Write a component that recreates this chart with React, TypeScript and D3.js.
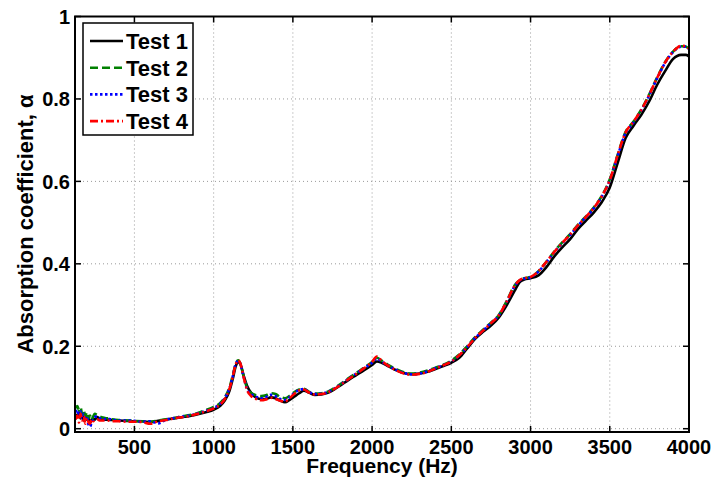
import React from "react";
import * as d3 from "d3";

const freqs = [128,140,150,160,170,180,190,200,210,220,230,240,250,265,280,300,330,360,400,450,500,550,600,650,700,750,800,850,900,950,1000,1040,1070,1100,1120,1140,1155,1170,1190,1210,1240,1270,1300,1330,1360,1390,1420,1450,1480,1510,1540,1570,1600,1640,1680,1720,1760,1800,1850,1900,1950,2000,2030,2060,2100,2150,2200,2250,2300,2350,2400,2450,2500,2550,2600,2650,2700,2750,2800,2850,2900,2930,2960,3000,3050,3100,3150,3200,3250,3300,3350,3400,3450,3500,3550,3600,3650,3700,3750,3800,3850,3900,3950,3980,4000];

const test1 = [0.035,0.030,0.040,0.025,0.035,0.020,0.030,0.022,0.028,0.015,
0.020,0.025,0.022,0.028,0.024,0.022,0.022,0.021,0.020,0.019,
0.018,0.018,0.016,0.019,0.022,0.025,0.028,0.031,0.035,0.040,
0.046,0.055,0.068,0.092,0.120,0.152,0.162,0.155,0.128,0.105,
0.085,0.075,0.072,0.072,0.076,0.074,0.068,0.064,0.070,0.078,
0.086,0.092,0.088,0.082,0.083,0.087,0.095,0.105,0.118,0.130,
0.142,0.155,0.163,0.160,0.152,0.142,0.135,0.132,0.134,0.138,
0.145,0.152,0.160,0.172,0.195,0.218,0.235,0.250,0.270,0.300,
0.335,0.355,0.362,0.365,0.372,0.392,0.418,0.440,0.460,0.485,
0.505,0.525,0.550,0.585,0.645,0.705,0.735,0.762,0.795,0.835,
0.868,0.897,0.907,0.907,0.903];

const test2 = [0.050,0.055,0.045,0.052,0.035,0.045,0.030,0.040,0.025,0.032,
0.022,0.030,0.036,0.033,0.030,0.027,0.025,0.023,0.021,0.020,
0.019,0.018,0.017,0.020,0.023,0.026,0.030,0.033,0.038,0.045,
0.053,0.062,0.076,0.100,0.128,0.158,0.166,0.157,0.126,0.100,
0.086,0.081,0.079,0.081,0.086,0.084,0.077,0.074,0.080,0.089,
0.095,0.097,0.090,0.085,0.086,0.090,0.098,0.108,0.122,0.135,
0.148,0.162,0.172,0.165,0.155,0.145,0.137,0.134,0.136,0.141,
0.148,0.155,0.165,0.180,0.200,0.222,0.240,0.257,0.276,0.310,
0.348,0.360,0.365,0.368,0.382,0.405,0.430,0.452,0.472,0.495,
0.515,0.537,0.565,0.605,0.665,0.720,0.745,0.775,0.812,0.853,
0.890,0.915,0.928,0.927,0.920];

const test3 = [0.040,0.046,0.030,0.042,0.025,0.036,0.020,0.030,0.010,0.005,
0.015,0.022,0.028,0.030,0.026,0.023,0.024,0.022,0.020,0.020,
0.019,0.017,0.018,0.013,0.022,0.026,0.029,0.032,0.037,0.043,
0.050,0.060,0.074,0.098,0.126,0.157,0.165,0.156,0.125,0.098,
0.083,0.077,0.074,0.077,0.082,0.079,0.072,0.070,0.077,0.087,
0.094,0.096,0.089,0.084,0.085,0.089,0.097,0.107,0.121,0.134,
0.147,0.160,0.170,0.163,0.153,0.143,0.135,0.132,0.134,0.139,
0.147,0.154,0.163,0.178,0.198,0.220,0.238,0.256,0.275,0.308,
0.346,0.359,0.364,0.367,0.381,0.404,0.428,0.450,0.470,0.493,
0.513,0.535,0.563,0.602,0.662,0.717,0.743,0.773,0.810,0.851,
0.888,0.914,0.927,0.927,0.921];

const test4 = [0.022,0.032,0.015,0.036,0.020,0.030,0.012,0.026,0.016,0.012,
0.023,0.018,0.021,0.023,0.020,0.020,0.020,0.018,0.018,0.017,
0.017,0.016,0.012,0.018,0.021,0.025,0.028,0.031,0.036,0.042,
0.049,0.058,0.072,0.097,0.125,0.157,0.166,0.157,0.124,0.095,
0.078,0.072,0.069,0.071,0.075,0.072,0.068,0.066,0.074,0.085,
0.093,0.095,0.088,0.083,0.084,0.088,0.096,0.106,0.120,0.133,
0.147,0.162,0.175,0.165,0.153,0.142,0.134,0.131,0.133,0.138,
0.146,0.154,0.163,0.178,0.198,0.220,0.238,0.256,0.275,0.309,
0.347,0.360,0.365,0.368,0.382,0.405,0.429,0.451,0.471,0.494,
0.514,0.536,0.564,0.603,0.664,0.719,0.745,0.774,0.811,0.852,
0.889,0.915,0.929,0.928,0.922];

const seriesNames = ["Test 1", "Test 2", "Test 3", "Test 4"];
const seriesValues = [test1, test2, test3, test4];
const seriesColors = ["#000000", "#008000", "#0000ff", "#ff0000"];
const seriesDash = ["none", "8,4", "2.5,2.5", "8,3,2,3"];

const xTicks = [500, 1000, 1500, 2000, 2500, 3000, 3500, 4000];
const yTicks = [0, 0.2, 0.4, 0.6, 0.8, 1];
const yTickLabels = ["0", "0.2", "0.4", "0.6", "0.8", "1"];

const W = 715, H = 487;
const L = 75, R = 689, T = 16.5, B = 432;
const FONT = "'Liberation Sans', Arial, Helvetica, sans-serif";

export default function App() {
  const x = d3.scaleLinear().domain([125, 4000]).range([L, R]);
  const y = d3.scaleLinear().domain([-0.008, 1]).range([B, T]);
  const line = d3
    .line<number>()
    .x((_, i) => x(freqs[i]))
    .y((v) => y(v))
    .curve(d3.curveMonotoneX);

  const legX = 83, legY = 23, legW = 110, legH = 112;
  const rowY = (i: number) => legY + 18 + i * 26.7;

  return (
    <svg width={W} height={H} style={{ position: "absolute", left: 0, top: 0, background: "#fff" }} fontFamily={FONT}>
      <defs>
        <clipPath id="plotclip">
          <rect x={L} y={T} width={R - L} height={B - T} />
        </clipPath>
      </defs>
      <rect x={0} y={0} width={W} height={H} fill="#fff" />
      {/* grid */}
      {xTicks.filter((t) => x(t) < R - 1).map((t) => (
        <line key={"gx" + t} x1={x(t)} x2={x(t)} y1={T} y2={B} stroke="#999" strokeWidth={1} strokeDasharray="1,3" />
      ))}
      {yTicks.filter((t) => y(t) > T + 1).map((t) => (
        <line key={"gy" + t} x1={L} x2={R} y1={y(t)} y2={y(t)} stroke="#999" strokeWidth={1} strokeDasharray="1,3" />
      ))}
      {/* series */}
      <g clipPath="url(#plotclip)">
        {seriesValues.map((vals, k) => (
          <path key={k} d={line(vals) || ""} fill="none" stroke={seriesColors[k]} strokeWidth={2.6}
            strokeDasharray={seriesDash[k]} strokeLinejoin="round" />
        ))}
      </g>
      {/* ticks */}
      {xTicks.map((t) => (
        <g key={"tx" + t}>
          <line x1={x(t)} x2={x(t)} y1={B} y2={B - 6} stroke="#000" strokeWidth={1.5} />
          <line x1={x(t)} x2={x(t)} y1={T} y2={T + 6} stroke="#000" strokeWidth={1.5} />
          <text x={x(t)} y={454} textAnchor="middle" fontSize={20} fontWeight="bold">{t}</text>
        </g>
      ))}
      {yTicks.map((t, i) => (
        <g key={"ty" + t}>
          <line x1={L} x2={L + 6} y1={y(t)} y2={y(t)} stroke="#000" strokeWidth={1.5} />
          <line x1={R} x2={R - 6} y1={y(t)} y2={y(t)} stroke="#000" strokeWidth={1.5} />
          <text x={70} y={y(t) + 7.5} textAnchor="end" fontSize={20} fontWeight="bold">{yTickLabels[i]}</text>
        </g>
      ))}
      {/* frame */}
      <rect x={L} y={T} width={R - L} height={B - T} fill="none" stroke="#000" strokeWidth={2} />
      {/* axis labels */}
      <text x={(L + R) / 2} y={473} textAnchor="middle" fontSize={21} fontWeight="bold">Frequency (Hz)</text>
      <text transform={`translate(33,224) rotate(-90)`} textAnchor="middle" fontSize={22} fontWeight="bold">Absorption coefficient, α</text>
      {/* legend */}
      <rect x={legX} y={legY} width={legW} height={legH} fill="#fff" stroke="#000" strokeWidth={1.5} />
      {seriesNames.map((n, i) => (
        <g key={n}>
          <line x1={90} x2={123} y1={rowY(i)} y2={rowY(i)} stroke={seriesColors[i]} strokeWidth={2.6} strokeDasharray={seriesDash[i]} />
          <text x={126} y={rowY(i) + 8} fontSize={22} fontWeight="bold">{n}</text>
        </g>
      ))}
    </svg>
  );
}
